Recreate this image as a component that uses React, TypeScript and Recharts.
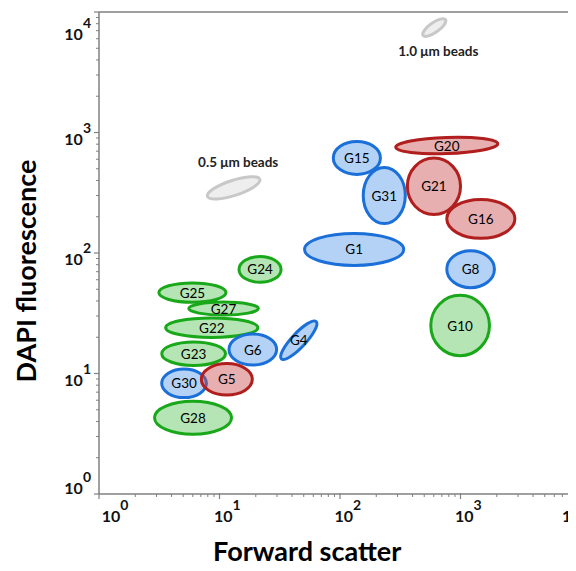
import React from 'react';
import { ScatterChart, Scatter, XAxis, YAxis, ReferenceLine } from 'recharts';

// ---------- data ----------
const gateNames = ['G15', 'G31', 'G20', 'G21', 'G16', 'G1', 'G8', 'G10', 'G24', 'G25', 'G27', 'G22', 'G23', 'G6', 'G4', 'G28', 'G30', 'G5'];
const gateGroups = ['blue', 'blue', 'red', 'red', 'red', 'blue', 'blue', 'green', 'green', 'green', 'green', 'green', 'green', 'blue', 'blue', 'green', 'blue', 'red'];
const gateForwardScatter = [138, 233, 769, 602, 1475, 131, 1213, 993, 21.7, 5.96, 10.8, 8.63, 6.1, 18.9, 45.5, 6.03, 5.08, 11.5];
const gateDapi = [615, 300, 780, 358, 192, 107, 73.4, 25.0, 73.1, 46.9, 34.6, 24.0, 14.6, 15.8, 18.9, 4.29, 8.29, 8.95];
// gate half-extents, in decades (log10 units)
const gateHalfWidth = [0.208, 0.187, 0.436, 0.233, 0.295, 0.424, 0.21, 0.256, 0.187, 0.291, 0.301, 0.395, 0.277, 0.21, 0.224, 0.332, 0.198, 0.224];
const gateHalfHeight = [0.149, 0.245, 0.079, 0.246, 0.174, 0.145, 0.166, 0.263, 0.12, 0.093, 0.066, 0.093, 0.11, 0.141, 0.0705, 0.149, 0.131, 0.143];
const gateTilt = [0, 0, 2, 0, 0, 0, 0, 0, 0, 0, 0, 0, 0, 0, 47, 0, 0, 0];

const beadLabels = ['0.5 \u03bcm beads', '1.0 \u03bcm beads'];
const beadForwardScatter = [13.1, 606];
const beadDapi = [347, 7430];
const beadHalfMajor = [0.241, 0.126];
const beadHalfMinor = [0.075, 0.053];
const beadTilt = [18, 35];
const beadLabelForwardScatter = [14.3, 654];
const beadLabelDapi = [569, 4740];

const majorTicks = [1, 10, 100, 1000, 10000];
const tickExponents = ['0', '1', '2', '3', '4'];
const allTicks = [
  1, 2, 3, 4, 5, 6, 7, 8, 9,
  10, 20, 30, 40, 50, 60, 70, 80, 90,
  100, 200, 300, 400, 500, 600, 700, 800, 900,
  1000, 2000, 3000, 4000, 5000, 6000, 7000, 8000, 9000,
  10000,
];

const xTitle = 'Forward scatter';
const yTitle = 'DAPI fluorescence';

// ---------- layout ----------
const CHART_W = 576;
const CHART_H = 571;
const MARGIN = { top: 12, right: -5, bottom: 47, left: 0 };
const Y_AXIS_W = 99;
const X_AXIS_H = 30;
const PLOT_W = CHART_W - MARGIN.left - MARGIN.right - Y_AXIS_W;
const PLOT_H = CHART_H - MARGIN.top - MARGIN.bottom - X_AXIS_H;
const PX_PER_DEC_X = PLOT_W / 4;
const PX_PER_DEC_Y = PLOT_H / 4;

const FONT = 'Lato, Carlito, "Open Sans", sans-serif';
const AXIS_COLOR = '#808080';

const COLORS: Record<string, { fill: string; op: number; stroke: string }> = {
  blue: { fill: '#3a8ae6', op: 0.38, stroke: '#1a6fd8' },
  red: { fill: '#c84848', op: 0.44, stroke: '#b01e1e' },
  green: { fill: '#4fc24f', op: 0.42, stroke: '#19a819' },
  bead: { fill: '#eeeeee', op: 1, stroke: '#c8c8c8' },
};

const gateData = gateNames.map((name, i) => ({
  name,
  group: gateGroups[i],
  x: gateForwardScatter[i],
  y: gateDapi[i],
  hw: gateHalfWidth[i],
  hh: gateHalfHeight[i],
  tilt: gateTilt[i],
}));

const beadData = beadLabels.map((name, i) => ({
  name,
  group: 'bead',
  x: beadForwardScatter[i],
  y: beadDapi[i],
  hw: beadHalfMajor[i],
  hh: beadHalfMinor[i],
  tilt: beadTilt[i],
}));

const beadLabelData = beadLabels.map((name, i) => ({
  name,
  x: beadLabelForwardScatter[i],
  y: beadLabelDapi[i],
}));

// ---------- renderers ----------
const EllipseShape = (props: any) => {
  const { cx, cy, payload } = props;
  if (cx == null || cy == null) return <g />;
  const c = COLORS[payload.group];
  const rx = Math.max(1, payload.hw * PX_PER_DEC_X - 1.5);
  const ry = Math.max(1, payload.hh * PX_PER_DEC_Y - 1.5);
  return (
    <ellipse
      cx={cx}
      cy={cy}
      rx={rx}
      ry={ry}
      transform={`rotate(${-payload.tilt} ${cx} ${cy})`}
      fill={c.fill}
      fillOpacity={c.op}
      stroke={c.stroke}
      strokeWidth={3}
    />
  );
};

const GateLabel = (props: any) => {
  const { cx, cy, payload } = props;
  if (cx == null || cy == null) return <g />;
  return (
    <text x={cx} y={cy} textAnchor="middle" dominantBaseline="central" fontFamily={FONT} fontSize={13.5} fill="#000">
      {payload.name}
    </text>
  );
};

const BeadLabel = (props: any) => {
  const { cx, cy, payload } = props;
  if (cx == null || cy == null) return <g />;
  return (
    <text x={cx} y={cy} textAnchor="middle" dominantBaseline="central" fontFamily={FONT} fontWeight="bold" fontSize={13.5} fill="#222">
      {payload.name}
    </text>
  );
};

const YTick = (props: any) => {
  const { x, y, payload } = props;
  const idx = majorTicks.indexOf(payload.value);
  if (idx < 0) {
    return <line x1={x} x2={x - 3} y1={y} y2={y} stroke={AXIS_COLOR} strokeWidth={1} />;
  }
  const base = idx === 4 ? 28 : idx === 0 ? 0 : 12.3;
  return (
    <g>
      <line x1={x} x2={x - 5} y1={y} y2={y} stroke={AXIS_COLOR} strokeWidth={1.2} />
      <text x={x - 8} y={y + base} textAnchor="end" fontFamily={FONT} fontWeight="bold" fontSize={16} fill="#111">
        10<tspan dy={-12} fontSize={14}>{tickExponents[idx]}</tspan>
      </text>
    </g>
  );
};

const XTick = (props: any) => {
  const { x, y, payload } = props;
  const idx = majorTicks.indexOf(payload.value);
  if (idx < 0) {
    return <line x1={x} x2={x} y1={y} y2={y + 3} stroke={AXIS_COLOR} strokeWidth={1} />;
  }
  const shift = idx === 0 ? 2.7 : idx === 4 ? -19 : -5.5;
  return (
    <g>
      <line x1={x} x2={x} y1={y - 1} y2={y + 5} stroke={AXIS_COLOR} strokeWidth={1.2} />
      <text x={x + shift} y={y + 28.4} textAnchor="start" fontFamily={FONT} fontWeight="bold" fontSize={16} fill="#111">
        10<tspan dy={-12} fontSize={14}>{tickExponents[idx]}</tspan>
      </text>
    </g>
  );
};

const XTitle = () => (
  <text
    x={MARGIN.left + Y_AXIS_W + PLOT_W * 0.432}
    y={MARGIN.top + PLOT_H + 67}
    textAnchor="middle"
    fontFamily={FONT}
    fontWeight="bold"
    fontSize={27}
    fill="#000"
  >
    {xTitle}
  </text>
);

const YTitle = () => {
  const x = 36;
  const y = MARGIN.top + PLOT_H / 2 + 18;
  return (
    <text
      x={x}
      y={y}
      transform={`rotate(-90 ${x} ${y})`}
      textAnchor="middle"
      fontFamily={FONT}
      fontWeight="bold"
      fontSize={27}
      fill="#000"
    >
      {yTitle}
    </text>
  );
};

export default function App() {
  return (
    <div style={{ margin: -8, width: CHART_W, height: CHART_H, background: '#fff' }}>
      <ScatterChart width={CHART_W} height={CHART_H} margin={MARGIN}>
        <XAxis
          type="number"
          dataKey="x"
          scale="log"
          domain={[1, 10000]}
          allowDataOverflow
          ticks={allTicks}
          interval={0}
          tick={<XTick />}
          tickLine={false}
          tickSize={0}
          tickMargin={0}
          height={X_AXIS_H}
          axisLine={{ stroke: AXIS_COLOR, strokeWidth: 1.5 }}
          label={<XTitle />}
        />
        <YAxis
          type="number"
          dataKey="y"
          scale="log"
          domain={[1, 10000]}
          allowDataOverflow
          ticks={allTicks}
          interval={0}
          tick={<YTick />}
          tickLine={false}
          tickSize={0}
          tickMargin={0}
          width={Y_AXIS_W}
          axisLine={{ stroke: AXIS_COLOR, strokeWidth: 1.5 }}
          label={<YTitle />}
        />
        <ReferenceLine y={10000} stroke="#a0a0a0" strokeWidth={2} />
        <ReferenceLine x={10000} stroke="#a0a0a0" strokeWidth={2} />
        <Scatter data={beadData} shape={<EllipseShape />} isAnimationActive={false} />
        <Scatter data={beadLabelData} shape={<BeadLabel />} isAnimationActive={false} />
        <Scatter data={gateData} shape={<EllipseShape />} isAnimationActive={false} />
        <Scatter data={gateData} shape={<GateLabel />} isAnimationActive={false} />
      </ScatterChart>
    </div>
  );
}
